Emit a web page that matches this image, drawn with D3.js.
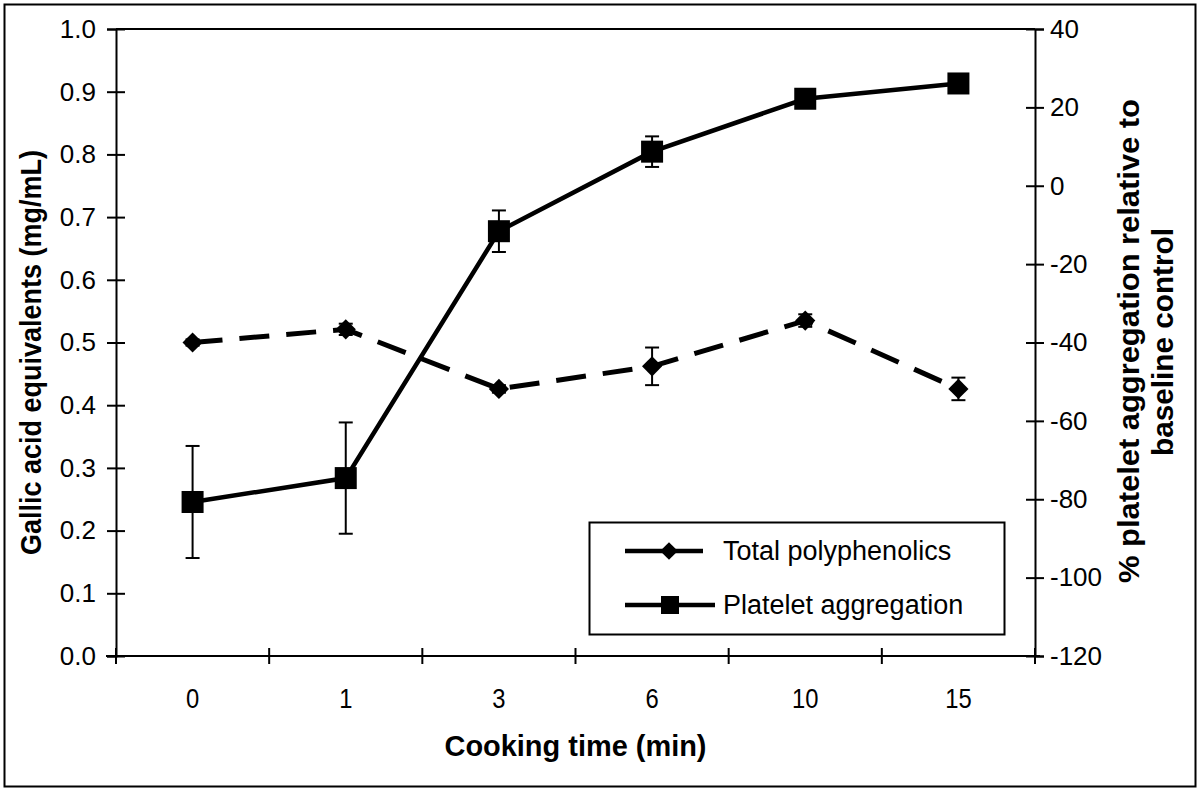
<!DOCTYPE html>
<html>
<head>
<meta charset="utf-8">
<script src="https://cdn.jsdelivr.net/npm/d3@7"></script>
<style>
  html, body { margin: 0; padding: 0; background: #fff; }
  svg { display: block; }
</style>
</head>
<body>
<script>
const categories = ["0", "1", "3", "6", "10", "15"];
const polyphenolics = [0.500, 0.521, 0.426, 0.462, 0.535, 0.426];
const polyphenolicsErr = [0.005, 0.009, 0.006, 0.030, 0.010, 0.018];
const platelet = [-80.7, -74.6, -11.6, 8.7, 22.2, 26.1];
const plateletErr = [14.3, 14.2, 5.3, 3.9, 2.0, 2.0];
const leftTicks = [0, 0.1, 0.2, 0.3, 0.4, 0.5, 0.6, 0.7, 0.8, 0.9, 1.0];
const rightTicks = [-120, -100, -80, -60, -40, -20, 0, 20, 40];
const legendLabels = ["Total polyphenolics", "Platelet aggregation"];

const W = 1200, H = 792;
const m = { left: 116, right: 1035, top: 29, bottom: 656 };
const svg = d3.select("body").append("svg").attr("width", W).attr("height", H);
const REG = "'Liberation Sans', Arial, sans-serif";

// outer frame
svg.append("rect").attr("x", 4.5).attr("y", 4.5).attr("width", 1191).attr("height", 782)
  .attr("fill", "none").attr("stroke", "#000").attr("stroke-width", 2);

const xBand = d3.scaleBand().domain(categories).range([m.left, m.right]);
const x = d3.scalePoint().domain(categories).range([m.left, m.right]).padding(0.5);
const yL = d3.scaleLinear().domain([0, 1]).range([m.bottom, m.top]);
const yR = d3.scaleLinear().domain([-120, 40]).range([m.bottom, m.top]);

// top frame line
svg.append("line").attr("x1", m.left).attr("x2", m.right).attr("y1", m.top).attr("y2", m.top)
  .attr("stroke", "#000").attr("stroke-width", 2);

// left axis
const gL = svg.append("g").attr("transform", `translate(${m.left},0)`)
  .call(d3.axisLeft(yL).tickValues(leftTicks).tickFormat(d3.format(".1f")).tickSize(9).tickPadding(11));
gL.select(".domain").attr("stroke-width", 2);
gL.selectAll(".tick line").attr("x2", 9).attr("x1", -9).attr("stroke-width", 2);
gL.selectAll(".tick text").attr("font-family", REG).attr("font-size", 26).attr("fill", "#000");

// right axis
const gR = svg.append("g").attr("transform", `translate(${m.right},0)`)
  .call(d3.axisRight(yR).tickValues(rightTicks).tickFormat(d3.format("d")).tickSize(9).tickPadding(6));
gR.select(".domain").attr("stroke-width", 2);
gR.selectAll(".tick line").attr("x1", -9).attr("x2", 9).attr("stroke-width", 2);
gR.selectAll(".tick text").attr("font-family", REG).attr("font-size", 26).attr("fill", "#000")
  .text(d => d < 0 ? "-" + Math.abs(d) : d);

// x axis
const gX = svg.append("g").attr("transform", `translate(0,${m.bottom})`);
gX.append("line").attr("x1", m.left - 10).attr("x2", m.right + 5).attr("stroke", "#000").attr("stroke-width", 2);
const bounds = categories.map(c => xBand(c)).concat([xBand(categories[categories.length - 1]) + xBand.bandwidth()]);
gX.selectAll("line.tk").data(bounds).join("line").attr("class", "tk")
  .attr("x1", d => d).attr("x2", d => d).attr("y1", -8).attr("y2", 8)
  .attr("stroke", "#000").attr("stroke-width", 2);
gX.selectAll("text.lab").data(categories).join("text").attr("class", "lab")
  .attr("transform", d => `translate(${x(d)},52) scale(0.85,1)`)
  .attr("text-anchor", "middle")
  .attr("font-family", REG).attr("font-size", 28).text(d => d);

// axis titles (condensed bold)
svg.append("text").attr("x", (m.left + m.right) / 2 - 131).attr("y", 756)
  .attr("textLength", 262).attr("lengthAdjust", "spacingAndGlyphs")
  .attr("font-family", REG).attr("font-weight", "bold").attr("font-size", 29).text("Cooking time (min)");
svg.append("text").attr("transform", "translate(41,555) rotate(-90)")
  .attr("textLength", 405).attr("lengthAdjust", "spacingAndGlyphs")
  .attr("font-family", REG).attr("font-weight", "bold").attr("font-size", 29).text("Gallic acid equivalents (mg/mL)");
svg.append("text").attr("transform", "translate(1139,583) rotate(-90)")
  .attr("textLength", 484).attr("lengthAdjust", "spacingAndGlyphs")
  .attr("font-family", REG).attr("font-weight", "bold").attr("font-size", 29).text("% platelet aggregation relative to");
svg.append("text").attr("transform", "translate(1173,456) rotate(-90)")
  .attr("textLength", 228).attr("lengthAdjust", "spacingAndGlyphs")
  .attr("font-family", REG).attr("font-weight", "bold").attr("font-size", 29).text("baseline control");

// error bars
function errBars(vals, errs, scale) {
  const g = svg.append("g").attr("stroke", "#000").attr("stroke-width", 2);
  categories.forEach((c, i) => {
    const cx = x(c), y1 = scale(vals[i] + errs[i]), y2 = scale(vals[i] - errs[i]);
    g.append("line").attr("x1", cx).attr("x2", cx).attr("y1", y1).attr("y2", y2);
    g.append("line").attr("x1", cx - 7).attr("x2", cx + 7).attr("y1", y1).attr("y2", y1);
    g.append("line").attr("x1", cx - 7).attr("x2", cx + 7).attr("y1", y2).attr("y2", y2);
  });
}
errBars(polyphenolics, polyphenolicsErr, yL);
errBars(platelet, plateletErr, yR);

// lines
const polyLine = d3.line().x((d, i) => x(categories[i])).y(d => yL(d));
svg.append("path").attr("d", polyLine(polyphenolics)).attr("fill", "none")
  .attr("stroke", "#000").attr("stroke-width", 5).attr("stroke-dasharray", "30,17");
const platLine = d3.line().x((d, i) => x(categories[i])).y(d => yR(d));
svg.append("path").attr("d", platLine(platelet)).attr("fill", "none")
  .attr("stroke", "#000").attr("stroke-width", 4.5);

// markers
const diamond = d3.symbol().type(d3.symbolDiamond2).size(260);
svg.append("g").selectAll("path").data(polyphenolics).join("path")
  .attr("transform", (d, i) => `translate(${x(categories[i])},${yL(d)})`)
  .attr("d", diamond()).attr("fill", "#000");
svg.append("g").selectAll("rect").data(platelet).join("rect")
  .attr("x", (d, i) => x(categories[i]) - 11).attr("y", d => yR(d) - 11)
  .attr("width", 22).attr("height", 22).attr("fill", "#000");

// legend
const lg = svg.append("g");
lg.append("rect").attr("x", 589.5).attr("y", 522.5).attr("width", 415).attr("height", 112)
  .attr("fill", "#fff").attr("stroke", "#000").attr("stroke-width", 2);
const ly = [551, 605];
const legendDiamond = d3.symbol().type(d3.symbolDiamond2).size(200);
lg.append("line").attr("x1", 625).attr("x2", 703).attr("y1", ly[0]).attr("y2", ly[0])
  .attr("stroke", "#000").attr("stroke-width", 4.5);
lg.append("path").attr("transform", `translate(669,${ly[0]})`).attr("d", legendDiamond()).attr("fill", "#000");
lg.append("line").attr("x1", 625).attr("x2", 715).attr("y1", ly[1]).attr("y2", ly[1])
  .attr("stroke", "#000").attr("stroke-width", 4.5);
lg.append("rect").attr("x", 670 - 9).attr("y", ly[1] - 9).attr("width", 18).attr("height", 18).attr("fill", "#000");
lg.selectAll("text").data(legendLabels).join("text")
  .attr("x", 723).attr("y", (d, i) => ly[i] + 9)
  .attr("font-family", REG).attr("font-size", 27).text(d => d);
</script>
</body>
</html>
